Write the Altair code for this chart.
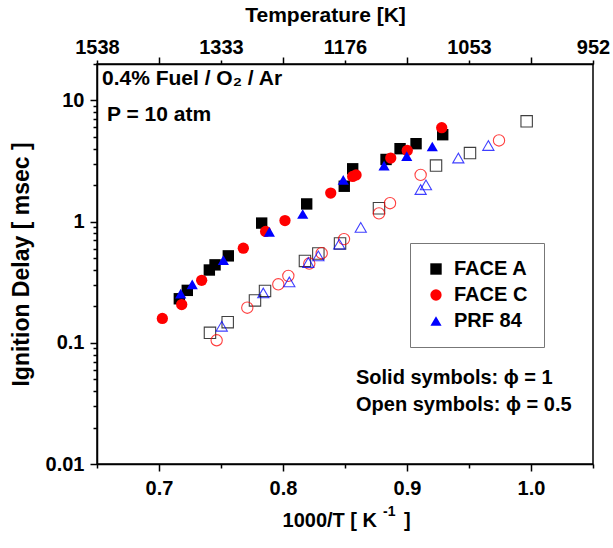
import altair as alt
import pandas as pd

# ---------------- data ----------------
fuels = ["FACE A", "FACE C", "PRF 84"]
fuel_colors = ["#000000", "#ff0000", "#0000ff"]
fuel_shapes = ["square", "circle", "triangle-up"]
fuel_sizes = [130, 125, 165]

# phi = 1 (solid symbols)
faceA_x1 = [0.7164, 0.7228, 0.7406, 0.7452, 0.7559, 0.7828, 0.8191, 0.8494, 0.8562, 0.8831, 0.8944, 0.9073, 0.9288]
faceA_y1 = [0.231, 0.271, 0.399, 0.44, 0.522, 0.973, 1.40, 1.96, 2.73, 3.26, 4.0, 4.40, 5.22]
faceC_x1 = [0.7027, 0.7183, 0.7344, 0.768, 0.786, 0.8016, 0.8385, 0.8562, 0.8589, 0.8869, 0.9002, 0.928]
faceC_y1 = [0.159, 0.207, 0.328, 0.604, 0.831, 1.02, 1.72, 2.36, 2.43, 3.35, 3.87, 5.96]
prf_x1 = [0.7175, 0.7268, 0.7519, 0.789, 0.8159, 0.8486, 0.8815, 0.8998, 0.9204]
prf_y1 = [0.255, 0.304, 0.481, 0.824, 1.156, 2.21, 2.90, 3.47, 4.17]

# phi = 0.5 (open symbols)
faceA_x05 = [0.7411, 0.7554, 0.7774, 0.7855, 0.8177, 0.8285, 0.846, 0.8774, 0.9234, 0.9508, 0.9965]
faceA_y05 = [0.121, 0.148, 0.224, 0.268, 0.474, 0.546, 0.661, 1.29, 2.90, 3.68, 6.73]
faceC_x05 = [0.7465, 0.7712, 0.7962, 0.8043, 0.8212, 0.8312, 0.8492, 0.8774, 0.8863, 0.911, 0.9742]
faceC_y05 = [0.105, 0.195, 0.304, 0.357, 0.451, 0.549, 0.718, 1.17, 1.42, 2.43, 4.68]
prf_x05 = [0.7506, 0.7841, 0.8051, 0.8204, 0.8285, 0.8454, 0.8627, 0.911, 0.9153, 0.9414, 0.9656]
prf_y05 = [0.137, 0.258, 0.318, 0.46, 0.522, 0.652, 0.897, 1.84, 2.01, 3.35, 4.25]

# axis ticks / labels
x_ticks = [0.65, 0.70, 0.75, 0.80, 0.85, 0.90, 0.95, 1.00, 1.05]
x_bottom_labels = ["", "0.7", "", "0.8", "", "0.9", "", "1.0", ""]
x_top_labels = ["1538", "", "1333", "", "1176", "", "1053", "", "952"]
x_major_ticks = [0.70, 0.80, 0.90, 1.00]
y_ticks = [0.01, 0.02, 0.03, 0.04, 0.05, 0.06, 0.07, 0.08, 0.09,
           0.1, 0.2, 0.3, 0.4, 0.5, 0.6, 0.7, 0.8, 0.9,
           1, 2, 3, 4, 5, 6, 7, 8, 9, 10, 20]
y_major = [0.01, 0.1, 1, 10]
y_major_labels = ["0.01", "0.1", "1", "10"]

# ---------------- build tables ----------------
def rows(xs, ys, fuel):
    return [{"invT": x, "tau": y, "fuel": fuel} for x, y in zip(xs, ys)]

solid = pd.DataFrame(rows(faceA_x1, faceA_y1, fuels[0]) + rows(faceC_x1, faceC_y1, fuels[1])
                     + rows(prf_x1, prf_y1, fuels[2]))
open_ = pd.DataFrame(rows(faceA_x05, faceA_y05, fuels[0]) + rows(faceC_x05, faceC_y05, fuels[1])
                     + rows(prf_x05, prf_y05, fuels[2]))

FONT = "Liberation Sans"
TICK_FS = 20


def js(lst):
    return "[" + ",".join(repr(v) if not isinstance(v, str) else "'" + v + "'" for v in lst) + "]"


tick_cond = {"condition": {"test": f"indexof({js(x_major_ticks)}, datum.value) >= 0", "value": 7}, "value": 4}
y_tick_cond = {"condition": {"test": f"indexof({js(y_major)}, datum.value) >= 0", "value": 7}, "value": 4}

xscale = alt.Scale(domain=[0.65, 1.05], nice=False, zero=False)
yscale = alt.Scale(type="log", domain=[0.01, 20], nice=False)

bottom_axis = alt.Axis(
    orient="bottom", values=x_ticks, grid=False, labelFlush=False, labelOverlap=False,
    labelExpr=f"{js(x_bottom_labels)}[indexof({js(x_ticks)}, datum.value)]",
    tickSize=tick_cond, tickColor="black", tickWidth=1.5, domainColor="black", domainWidth=1.5,
    labelFont=FONT, labelFontWeight="bold", labelFontSize=TICK_FS, labelColor="black", labelPadding=7,
    title=None,
)
top_axis = alt.Axis(
    orient="top", values=x_ticks, grid=False, labelFlush=False, labelOverlap=False,
    labelExpr=f"{js(x_top_labels)}[indexof({js(x_ticks)}, datum.value)]",
    tickSize=tick_cond, tickColor="black", tickWidth=1.5, domainColor="black", domainWidth=1.5,
    labelFont=FONT, labelFontWeight="bold", labelFontSize=TICK_FS, labelColor="black", labelPadding=3,
    title="Temperature [K]", titleFont=FONT, titleFontWeight="bold", titleFontSize=21,
    titleColor="black", titlePadding=9, titleX=228, titleAlign="center",
)
left_axis = alt.Axis(
    orient="left", values=y_ticks, grid=False, labelOverlap=False,
    labelExpr=f"indexof({js(y_major)}, datum.value) >= 0 ? {js(y_major_labels)}[indexof({js(y_major)}, datum.value)] : ''",
    tickSize=y_tick_cond, tickColor="black", tickWidth=1.5, domainColor="black", domainWidth=1.5,
    labelFont=FONT, labelFontWeight="bold", labelFontSize=TICK_FS, labelColor="black", labelPadding=6,
    title="Ignition Delay [ msec ]", titleFont=FONT, titleFontWeight="bold", titleFontSize=23,
    titleColor="black", titlePadding=12,
)

legend = alt.Legend(
    orient="none", legendX=313, legendY=179, title=None,
    fillColor="white", strokeColor="#777777", padding=16, rowPadding=6,
    labelFont=FONT, labelFontWeight="bold", labelFontSize=20, labelColor="black",
    labelOffset=8, symbolSize=80, symbolStrokeWidth=0,
)

solid_layer = alt.Chart(solid).mark_point(filled=True, opacity=1).encode(
    x=alt.X("invT:Q", scale=xscale, axis=bottom_axis),
    y=alt.Y("tau:Q", scale=yscale, axis=left_axis),
    color=alt.Color("fuel:N", scale=alt.Scale(domain=fuels, range=fuel_colors), legend=legend),
    shape=alt.Shape("fuel:N", scale=alt.Scale(domain=fuels, range=fuel_shapes), legend=legend),
    size=alt.Size("fuel:N", scale=alt.Scale(domain=fuels, range=fuel_sizes), legend=None),
)

open_layer = alt.Chart(open_).mark_point(filled=False, strokeWidth=1.1, opacity=0.75).encode(
    x=alt.X("invT:Q", scale=xscale, axis=top_axis),
    y=alt.Y("tau:Q", scale=yscale, axis=None),
    color=alt.Color("fuel:N", scale=alt.Scale(domain=fuels, range=fuel_colors), legend=None),
    shape=alt.Shape("fuel:N", scale=alt.Scale(domain=fuels, range=fuel_shapes), legend=None),
    size=alt.Size("fuel:N", scale=alt.Scale(domain=fuels, range=fuel_sizes), legend=None),
)

ann = pd.DataFrame({"t": [0]})


def label(text, px, py, fs=21, align="left"):
    return alt.Chart(ann).mark_text(
        text=text, align=align, baseline="middle", font=FONT, fontWeight="bold",
        fontSize=fs, color="black",
    ).encode(x=alt.value(px), y=alt.value(py))


notes = [
    label("0.4% Fuel / O₂ / Ar", 5, 15),
    label("P = 10 atm", 10, 51),
    label("Solid symbols: ϕ = 1", 259, 314, fs=20),
    label("Open symbols: ϕ = 0.5", 259, 341, fs=20),
    # bottom axis title with superscript
    label("1000/T [ K", 280, 457, fs=20, align="right"),
    label("-1", 286, 448, fs=14),
    label("]", 307, 457, fs=20),
]

chart = alt.layer(open_layer, solid_layer, *notes).resolve_axis(
    x="independent", y="independent"
).resolve_scale(
    color="independent", shape="independent", size="independent"
).properties(
    width=496, height=400,
    autosize=alt.AutoSizeParams(type="none"),
    padding={"left": 97, "top": 64, "right": 20, "bottom": 84},
    background="white",
).configure_view(stroke="black", strokeWidth=1.5)

chart.save("out.html", embed_options={"renderer": "svg", "actions": False})
